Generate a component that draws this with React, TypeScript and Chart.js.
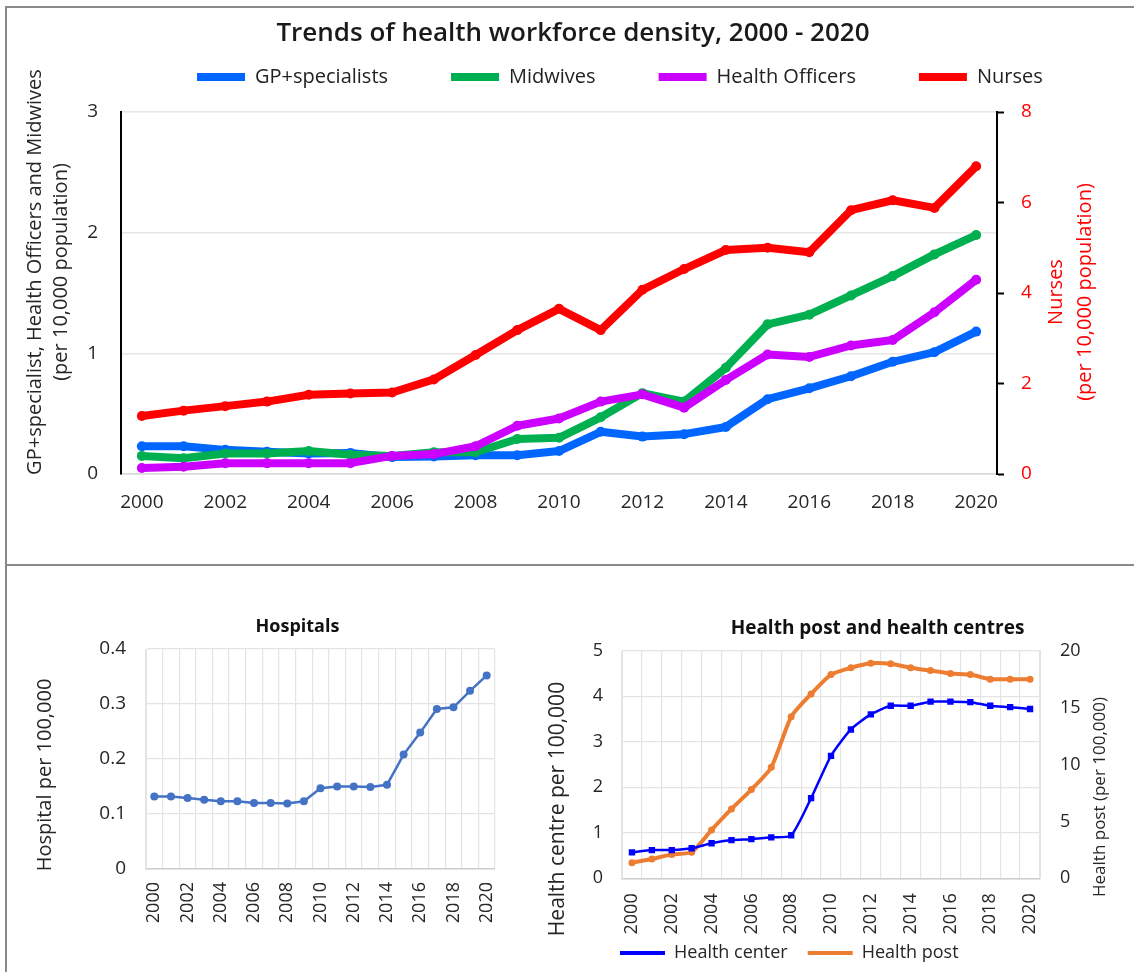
import React, { useEffect, useRef } from "react";
import { Chart, registerables } from "chart.js";

Chart.register(...registerables);

// ---------- data ----------
const years = [
  "2000", "2001", "2002", "2003", "2004", "2005", "2006", "2007", "2008", "2009", "2010",
  "2011", "2012", "2013", "2014", "2015", "2016", "2017", "2018", "2019", "2020",
];
const gpSpecialists = [0.23, 0.23, 0.2, 0.185, 0.17, 0.175, 0.14, 0.145, 0.155, 0.155, 0.19, 0.35, 0.31, 0.33, 0.39, 0.62, 0.71, 0.81, 0.93, 1.01, 1.18];
const midwives = [0.15, 0.13, 0.17, 0.17, 0.19, 0.16, 0.15, 0.18, 0.18, 0.29, 0.3, 0.47, 0.67, 0.6, 0.88, 1.24, 1.32, 1.48, 1.64, 1.82, 1.98];
const healthOfficers = [0.05, 0.06, 0.09, 0.09, 0.09, 0.09, 0.15, 0.165, 0.23, 0.4, 0.46, 0.6, 0.66, 0.55, 0.78, 0.99, 0.97, 1.065, 1.11, 1.34, 1.61];
const nurses = [1.28, 1.4, 1.5, 1.6, 1.75, 1.78, 1.8, 2.09, 2.63, 3.18, 3.65, 3.18, 4.07, 4.53, 4.95, 5.0, 4.9, 5.83, 6.05, 5.88, 6.8];
const hospitals = [0.132, 0.132, 0.129, 0.126, 0.123, 0.123, 0.12, 0.12, 0.119, 0.123, 0.147, 0.15, 0.15, 0.149, 0.153, 0.208, 0.248, 0.291, 0.294, 0.324, 0.352];
const healthCenters = [0.57, 0.62, 0.62, 0.66, 0.77, 0.84, 0.86, 0.9, 0.945, 1.76, 2.69, 3.27, 3.6, 3.79, 3.79, 3.88, 3.88, 3.87, 3.79, 3.76, 3.72];
const healthPosts = [1.37, 1.7, 2.1, 2.3, 4.25, 6.1, 7.8, 9.75, 14.2, 16.2, 17.9, 18.5, 18.9, 18.85, 18.5, 18.25, 18.0, 17.9, 17.5, 17.5, 17.5];

const topTitle = "Trends of health workforce density, 2000 - 2020";
const topLeftAxisTitle = ["GP+specialist, Health Officers and Midwives", "(per 10,000 population)"];
const topRightAxisTitle = ["Nurses", "(per 10,000 population)"];
const hospTitle = "Hospitals";
const hospAxisTitle = ["Hospital per 100,000"];
const hpTitle = "Health post and health centres";
const hcAxisTitle = ["Health centre per 100,000"];
const hpAxisTitle = ["Health post (per 100,000)"];

const FONT = "'Open Sans', 'Noto Sans', sans-serif";
const TEXT = "#262626";

type SideTitle = { lines: string[]; x: number; y: number; size: number; lineHeight: number; color: string };

function sideTitlesPlugin(items: SideTitle[]) {
  return {
    id: "sideTitles",
    afterDraw(chart: any) {
      const ctx = chart.ctx;
      items.forEach((it) => {
        ctx.save();
        ctx.translate(it.x, it.y);
        ctx.rotate(-Math.PI / 2);
        ctx.font = `${it.size}px ${FONT}`;
        ctx.fillStyle = it.color;
        ctx.textAlign = "center";
        ctx.textBaseline = "middle";
        it.lines.forEach((ln, i) => ctx.fillText(ln, 0, (i - (it.lines.length - 1) / 2) * it.lineHeight));
        ctx.restore();
      });
    },
  };
}

type Tweak = { legendHeight?: number; legendX?: number; legendCY?: number; legendPad?: number; legendFont?: number; titleShift?: number };

function boxTweakPlugin(cfg: Tweak) {
  return {
    id: "boxTweak",
    beforeLayout(chart: any) {
      const lg = chart.legend;
      if (lg && cfg.legendHeight != null && !lg.__patched) {
        const orig = lg.fit.bind(lg);
        lg.fit = () => {
          orig();
          lg.height = cfg.legendHeight;
        };
        lg.__patched = true;
      }
    },
    afterLayout(chart: any) {
      const lg = chart.legend;
      if (lg && cfg.legendX != null) {
        const pad = cfg.legendPad || 0;
        const fs = cfg.legendFont || 12;
        lg.left = cfg.legendX - pad;
        lg.right = chart.width * 3;
        lg.top = (cfg.legendCY || 0) - pad - fs / 2;
        lg.bottom = lg.top + pad + fs + 40;
      }
      const tb = chart.titleBlock;
      if (tb && cfg.titleShift) {
        tb.left += cfg.titleShift;
        tb.right += cfg.titleShift;
      }
    },
  };
}

const everyOther = (_v: any, i: number) => (i % 2 === 0 ? years[i] : "");

const noBorderLabels = (chart: any) =>
  (Chart.defaults.plugins.legend.labels.generateLabels as any)(chart).map((l: any) => ({ ...l, lineWidth: 0 }));

function useChart(makeConfig: () => any) {
  const ref = useRef<HTMLCanvasElement | null>(null);
  useEffect(() => {
    if (!ref.current) return;
    const chart = new Chart(ref.current, makeConfig());
    return () => chart.destroy();
  }, []);
  return ref;
}

function TopChart() {
  const ref = useChart(() => {
    const line = (label: string, data: number[], color: string, axis: string, order: number) => ({
      label,
      data,
      borderColor: color,
      backgroundColor: color,
      borderWidth: 8,
      borderCapStyle: "round",
      borderJoinStyle: "round",
      pointRadius: 5,
      pointBackgroundColor: color,
      pointBorderWidth: 0,
      yAxisID: axis,
      order,
      tension: 0,
    });
    return {
      type: "line",
      data: {
        labels: years,
        datasets: [
          line("GP+specialists", gpSpecialists, "#0066FF", "y", 4),
          line("Midwives", midwives, "#00B050", "y", 3),
          line("Health Officers", healthOfficers, "#CC00FF", "y", 2),
          line("Nurses", nurses, "#FF0000", "y1", 1),
        ],
      },
      options: {
        responsive: false,
        animation: false,
        devicePixelRatio: 1,
        layout: { padding: 0 },
        plugins: {
          tooltip: { enabled: false },
          title: {
            display: true,
            text: topTitle,
            color: "#1a1a1a",
            font: { family: FONT, size: 26, weight: "600" },
            padding: { top: 18.4, bottom: 0 },
          },
          legend: {
            display: true,
            position: "top",
            align: "start",
            labels: {
              boxWidth: 48,
              boxHeight: 8,
              padding: 63,
              color: "#222",
              font: { family: FONT, size: 20 },
              sort: (a: any, b: any) => a.datasetIndex - b.datasetIndex,
              generateLabels: noBorderLabels,
            },
          },
        },
        scales: {
          x: {
            type: "category",
            offset: true,
            grid: { display: false, offset: true },
            border: { color: "#d9d9d9", width: 1.5 },
            ticks: { autoSkip: false, maxRotation: 0, minRotation: 0, padding: 9, color: TEXT, font: { family: FONT, size: 19 }, callback: everyOther },
            afterFit: (s: any) => { s.height = 91; },
          },
          y: {
            position: "left",
            min: 0,
            max: 3,
            ticks: { stepSize: 1, padding: 23, color: TEXT, font: { family: FONT, size: 19 } },
            grid: { color: "#e6e6e6", lineWidth: 1.5, drawTicks: false },
            border: { color: "#000", width: 2 },
            afterFit: (s: any) => { s.width = 121; },
          },
          y1: {
            position: "right",
            min: 0,
            max: 8,
            ticks: { stepSize: 2, padding: 17, color: "#FF0000", font: { family: FONT, size: 19 } },
            grid: { drawOnChartArea: false, drawTicks: true, tickLength: 7, tickColor: "#000", tickWidth: 2 },
            border: { color: "#000", width: 2 },
            afterFit: (s: any) => { s.width = 137; },
          },
        },
      },
      plugins: [
        boxTweakPlugin({ legendHeight: 62.4, legendX: 197, legendCY: 77, legendPad: 63, legendFont: 20, titleShift: 6 }),
        sideTitlesPlugin([
          { lines: topLeftAxisTitle, x: 48, y: 272, size: 20, lineHeight: 26, color: TEXT },
          { lines: topRightAxisTitle, x: 1071, y: 292, size: 20, lineHeight: 29, color: "#FF0000" },
        ]),
      ],
    };
  });
  return <canvas ref={ref} width={1134} height={565} style={{ position: "absolute", left: 0, top: 0 }} />;
}

function HospitalChart() {
  const ref = useChart(() => ({
    type: "line",
    data: {
      labels: years,
      datasets: [
        {
          label: "Hospitals",
          data: hospitals,
          borderColor: "#4472C4",
          backgroundColor: "#4472C4",
          borderWidth: 2.5,
          pointRadius: 4,
          pointBackgroundColor: "#4472C4",
          pointBorderWidth: 0,
          tension: 0,
        },
      ],
    },
    options: {
      responsive: false,
      animation: false,
      devicePixelRatio: 1,
      layout: { padding: { left: 0, right: 45, top: 0, bottom: 0 } },
      plugins: {
        tooltip: { enabled: false },
        legend: { display: false },
        title: {
          display: true,
          text: hospTitle,
          color: "#111",
          font: { family: FONT, size: 18, weight: "bold" },
          padding: { top: 49.9, bottom: 11.5 },
        },
      },
      scales: {
        x: {
          offset: true,
          grid: { color: "#e4e4e4", lineWidth: 1.2, drawTicks: false, offset: true },
          border: { color: "#cfcfcf", width: 1.5 },
          ticks: { autoSkip: false, minRotation: 90, maxRotation: 90, padding: 13, color: TEXT, font: { family: FONT, size: 18 }, callback: everyOther },
          afterFit: (s: any) => { s.height = 103; },
        },
        y: {
          min: 0,
          max: 0.4,
          ticks: { stepSize: 0.1, padding: 20, color: TEXT, font: { family: FONT, size: 19 } },
          grid: { color: "#e4e4e4", lineWidth: 1.2, drawTicks: false },
          border: { color: "#e4e4e4" },
          afterFit: (s: any) => { s.width = 146; },
        },
      },
    },
    plugins: [
      boxTweakPlugin({ titleShift: 50 }),
      sideTitlesPlugin([{ lines: hospAxisTitle, x: 45, y: 209, size: 20, lineHeight: 24, color: TEXT }]),
    ],
  }));
  return <canvas ref={ref} width={540} height={406} style={{ position: "absolute", left: 0, top: 566 }} />;
}

function HealthPostChart() {
  const ref = useChart(() => ({
    type: "line",
    data: {
      labels: years,
      datasets: [
        {
          label: "Health center",
          data: healthCenters,
          borderColor: "#0000FF",
          backgroundColor: "#0000FF",
          borderWidth: 2.5,
          pointStyle: "rect",
          pointRadius: 4.5,
          pointBackgroundColor: "#0000FF",
          pointBorderWidth: 0,
          tension: 0.2,
          yAxisID: "y",
          order: 1,
        },
        {
          label: "Health post",
          data: healthPosts,
          borderColor: "#ED7D31",
          backgroundColor: "#ED7D31",
          borderWidth: 4,
          pointStyle: "circle",
          pointRadius: 3.5,
          pointBackgroundColor: "#ED7D31",
          pointBorderWidth: 0,
          tension: 0.2,
          yAxisID: "y1",
          order: 2,
        },
      ],
    },
    options: {
      responsive: false,
      animation: false,
      devicePixelRatio: 1,
      layout: { padding: 0 },
      plugins: {
        tooltip: { enabled: false },
        title: {
          display: true,
          text: hpTitle,
          color: "#111",
          font: { family: FONT, size: 19, weight: "bold" },
          padding: { top: 51.6, bottom: 10.3 },
        },
        legend: {
          display: true,
          position: "bottom",
          align: "start",
          labels: {
            boxWidth: 45,
            boxHeight: 4,
            padding: 20,
            color: TEXT,
            font: { family: FONT, size: 18 },
            sort: (a: any, b: any) => a.datasetIndex - b.datasetIndex,
            generateLabels: noBorderLabels,
          },
        },
      },
      scales: {
        x: {
          offset: true,
          grid: { color: "#e4e4e4", lineWidth: 1.2, drawTicks: false, offset: true },
          border: { color: "#cfcfcf", width: 1.5 },
          ticks: { autoSkip: false, minRotation: 90, maxRotation: 90, padding: 15, color: TEXT, font: { family: FONT, size: 18 }, callback: everyOther },
          afterFit: (s: any) => { s.height = 63.7; },
        },
        y: {
          position: "left",
          min: 0,
          max: 5,
          ticks: { stepSize: 1, padding: 19, color: TEXT, font: { family: FONT, size: 18 } },
          grid: { color: "#e4e4e4", lineWidth: 1.2, drawTicks: false },
          border: { color: "#e4e4e4" },
          afterFit: (s: any) => { s.width = 82; },
        },
        y1: {
          position: "right",
          min: 0,
          max: 20,
          ticks: { stepSize: 5, padding: 20, color: TEXT, font: { family: FONT, size: 18 } },
          grid: { drawOnChartArea: false, drawTicks: false },
          border: { color: "#e4e4e4" },
          afterFit: (s: any) => { s.width = 94; },
        },
      },
    },
    plugins: [
      boxTweakPlugin({ legendHeight: 30, legendX: 80, legendCY: 387, legendPad: 20, legendFont: 18, titleShift: 40.5 }),
      sideTitlesPlugin([
        { lines: hcAxisTitle, x: 18, y: 243, size: 21, lineHeight: 26, color: TEXT },
        { lines: hpAxisTitle, x: 560, y: 231, size: 17, lineHeight: 22, color: TEXT },
      ]),
    ],
  }));
  return <canvas ref={ref} width={594} height={406} style={{ position: "absolute", left: 540, top: 566 }} />;
}

export default function App() {
  const lineStyle = { position: "absolute" as const, background: "#8a8a8a" };
  return (
    <div style={{ position: "fixed", left: 0, top: 0, width: 1134, height: 972, background: "#fff", overflow: "hidden" }}>
      <TopChart />
      <HospitalChart />
      <HealthPostChart />
      <div style={{ ...lineStyle, left: 5, top: 6, width: 1129, height: 2 }} />
      <div style={{ ...lineStyle, left: 5, top: 6, width: 2, height: 966 }} />
      <div style={{ ...lineStyle, left: 5, top: 564, width: 1129, height: 2 }} />
    </div>
  );
}
